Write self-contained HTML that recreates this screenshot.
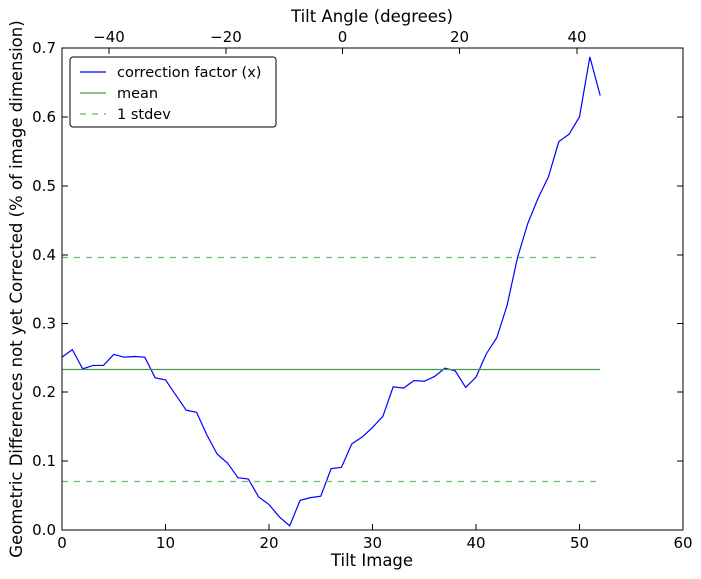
<!DOCTYPE html>
<html><head><meta charset="utf-8"><style>
html,body{margin:0;padding:0;background:#fff;}
svg{display:block;font-family:"DejaVu Sans","Liberation Sans",sans-serif;}
</style></head><body>
<svg width="701" height="579" viewBox="0 0 701 579" xmlns="http://www.w3.org/2000/svg">
<rect width="701" height="579" fill="#fff"/>
<g transform="translate(62,530) scale(10.35,-688.57)">
<polyline fill="none" stroke="#0000ff" stroke-width="1.2" vector-effect="non-scaling-stroke" points="0,0.251 1,0.262 2,0.234 3,0.239 4,0.239 5,0.255 6,0.251 7,0.252 8,0.251 9,0.221 10,0.218 11,0.196 12,0.174 13,0.171 14,0.138 15,0.110 16,0.097 17,0.076 18,0.074 19,0.048 20,0.037 21,0.019 22,0.006 23,0.043 24,0.047 25,0.049 26,0.089 27,0.091 28,0.125 29,0.135 30,0.149 31,0.165 32,0.208 33,0.206 34,0.217 35,0.216 36,0.223 37,0.235 38,0.231 39,0.207 40,0.222 41,0.256 42,0.279 43,0.326 44,0.395 45,0.445 46,0.482 47,0.513 48,0.564 49,0.575 50,0.600 51,0.687 52,0.631"/>
</g>
<line x1="62" y1="369.5" x2="600" y2="369.5" stroke="#449944" stroke-width="1.2"/>
<line x1="62" y1="257.5" x2="600" y2="257.5" stroke="#66bb66" stroke-width="1.2" stroke-dasharray="6,6"/>
<line x1="62" y1="481.5" x2="600" y2="481.5" stroke="#66bb66" stroke-width="1.2" stroke-dasharray="6,6"/>
<rect x="62" y="48" width="621" height="482" fill="none" stroke="#000" stroke-width="1"/>
<g stroke="#000" stroke-width="1">
<line x1="62" y1="530" x2="62" y2="524"/><line x1="165.5" y1="530" x2="165.5" y2="524"/><line x1="269" y1="530" x2="269" y2="524"/><line x1="372.5" y1="530" x2="372.5" y2="524"/><line x1="476" y1="530" x2="476" y2="524"/><line x1="579.5" y1="530" x2="579.5" y2="524"/>
<line x1="109" y1="48" x2="109" y2="54"/><line x1="226" y1="48" x2="226" y2="54"/><line x1="342.5" y1="48" x2="342.5" y2="54"/><line x1="459.5" y1="48" x2="459.5" y2="54"/><line x1="577" y1="48" x2="577" y2="54"/>
<line x1="62" y1="461" x2="68" y2="461"/><line x1="62" y1="392" x2="68" y2="392"/><line x1="62" y1="323.5" x2="68" y2="323.5"/><line x1="62" y1="255" x2="68" y2="255"/><line x1="62" y1="186" x2="68" y2="186"/><line x1="62" y1="117" x2="68" y2="117"/>
<line x1="683" y1="461" x2="677" y2="461"/><line x1="683" y1="392" x2="677" y2="392"/><line x1="683" y1="323.5" x2="677" y2="323.5"/><line x1="683" y1="255" x2="677" y2="255"/><line x1="683" y1="186" x2="677" y2="186"/><line x1="683" y1="117" x2="677" y2="117"/>
</g>
<g font-size="15" fill="#000" text-anchor="middle">
<text x="62" y="548">0</text><text x="165.5" y="548">10</text><text x="269" y="548">20</text><text x="372.5" y="548">30</text><text x="476" y="548">40</text><text x="579.5" y="548">50</text><text x="683" y="548">60</text>
<text x="109" y="42">−40</text><text x="226" y="42">−20</text><text x="342.5" y="42">0</text><text x="459.5" y="42">20</text><text x="577" y="42">40</text>
</g>
<g font-size="16.5" fill="#000" text-anchor="middle">
<text x="372" y="566">Tilt Image</text>
<text x="372" y="22">Tilt Angle (degrees)</text>
<text transform="translate(22,289) rotate(-90)">Geometric Differences not yet Corrected (% of image dimension)</text>
</g>
<g font-size="15" fill="#000" text-anchor="end">
<text x="56" y="535">0.0</text><text x="56" y="466">0.1</text><text x="56" y="397">0.2</text><text x="56" y="328.5">0.3</text><text x="56" y="260">0.4</text><text x="56" y="191">0.5</text><text x="56" y="122">0.6</text><text x="56" y="53">0.7</text>
</g>
<rect x="70" y="57" width="206" height="70" rx="3" fill="#fff" stroke="#000" stroke-width="1"/>
<line x1="80" y1="72" x2="106" y2="72" stroke="#0000ff" stroke-width="1.2"/>
<line x1="80" y1="93" x2="106" y2="93" stroke="#449944" stroke-width="1.2"/>
<line x1="80" y1="114" x2="106" y2="114" stroke="#66bb66" stroke-width="1.2" stroke-dasharray="6,6"/>
<g font-size="14.5" fill="#000">
<text x="117" y="77">correction factor (x)</text>
<text x="117" y="98">mean</text>
<text x="117" y="119">1 stdev</text>
</g>
</svg>
</body></html>
